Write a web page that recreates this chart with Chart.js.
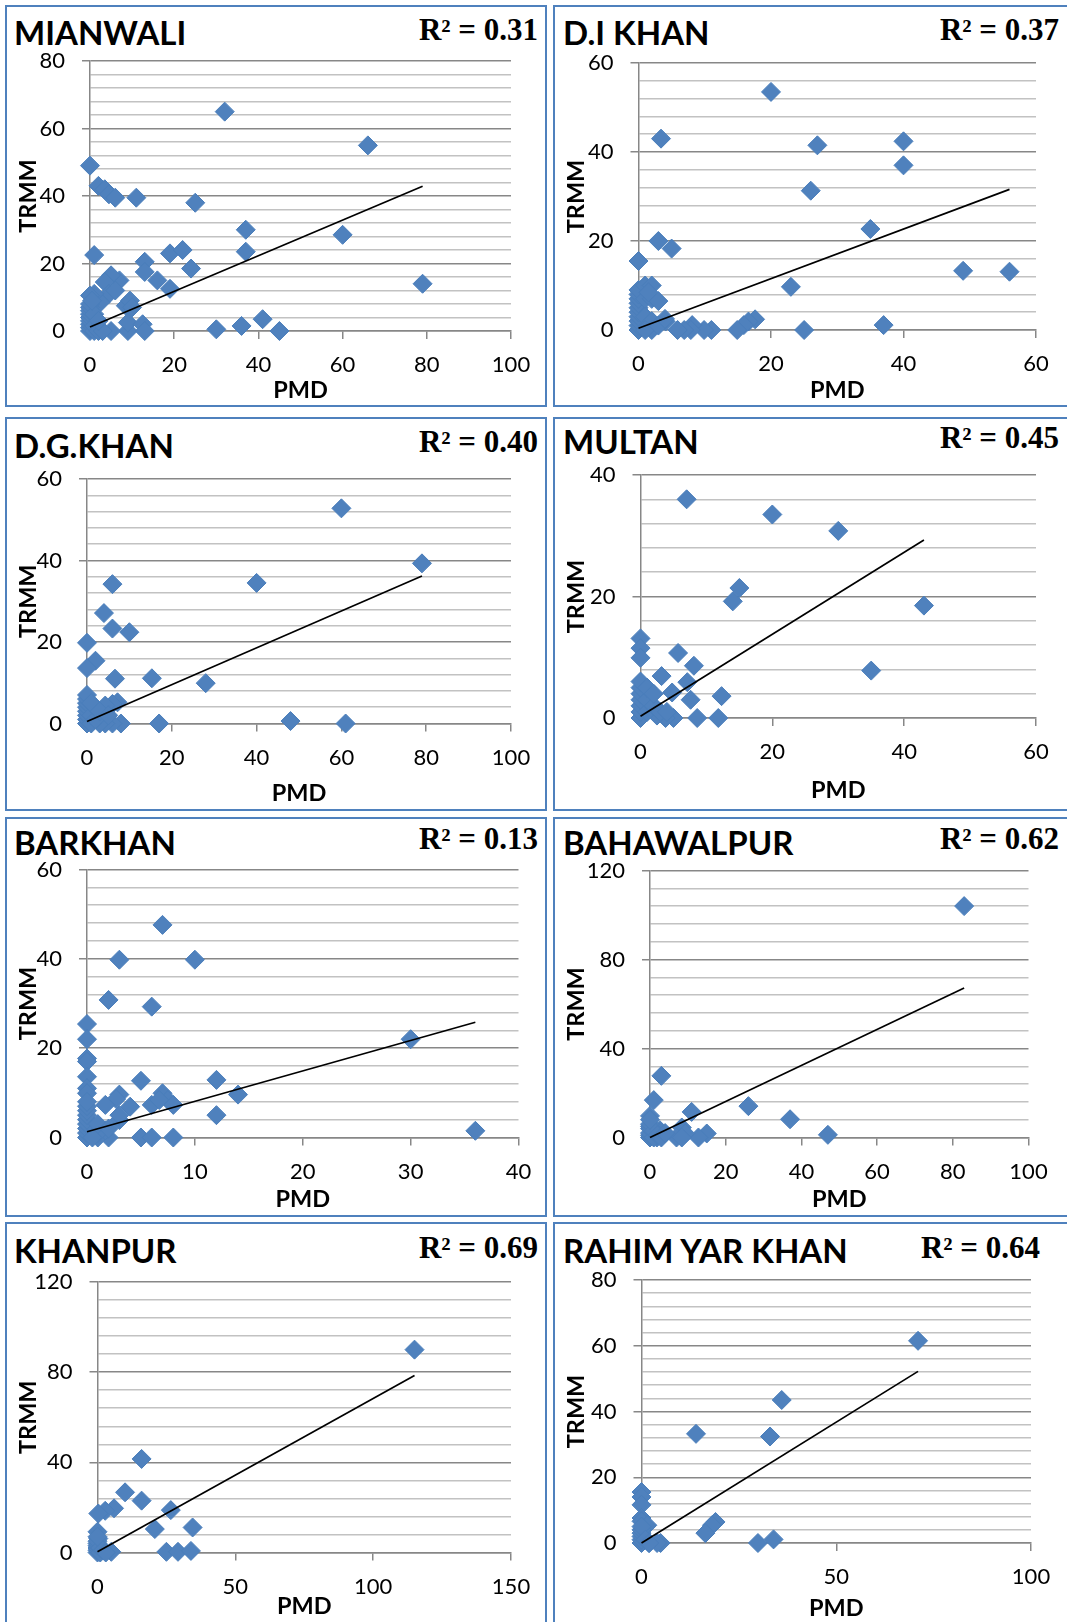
<!DOCTYPE html>
<html>
<head>
<meta charset="utf-8">
<title>PMD vs TRMM</title>
<script src="https://cdn.jsdelivr.net/npm/chart.js@4.4.0/dist/chart.umd.min.js"></script>
<style>
  html, body { margin: 0; padding: 0; background: #fff; }
  body { width: 1067px; height: 1622px; position: relative; overflow: hidden; }
  .frame { position: absolute; box-sizing: border-box; border: 2px solid #4f81bd; }
  canvas { position: absolute; }
  .name { position: absolute; font-family: Lato; font-weight: 700; font-size: 33px; line-height: 33px; white-space: nowrap; color: #000; }
  .r2 { position: absolute; font-family: "Liberation Serif"; font-weight: 700; font-size: 31px; line-height: 31px; white-space: nowrap; text-align: right; width: 300px; color: #000; }
</style>
</head>
<body>
<script>
// station monthly rainfall, PMD gauge (x) against TRMM estimate (y)
const mianwaliPMD  = [32, 66, 0, 2, 3.5, 4.5, 6, 11, 25, 37, 37, 60, 79, 1, 13, 13, 19, 22, 24, 16, 19, 7, 5, 3.5, 4.5, 6, 2.5, 1, 0, 8.5, 9.5, 10, 9, 9, 12.5, 13, 5, 30, 36, 41, 45, 0, 0, 0, 0, 0, 0, 0, 0, 0, 1, 1, 2, 3, 1, 0.5, 2];
const mianwaliTRMM = [65, 55, 49, 43, 42, 40.5, 39.5, 39.5, 38, 30, 23.5, 28.5, 14, 22.5, 20.5, 17.5, 23, 24, 18.5, 15, 12.5, 15, 16.5, 14.5, 11, 12, 8.5, 11, 10.5, 7.5, 9, 7, 0, 2.5, 2, 0, 0, 0.5, 1.5, 3.5, 0, 0, 1, 2, 3, 4, 5, 6, 7, 8, 0, 1.5, 0, 0, 5, 9, 3];
const mianwaliFitPMD = [0, 79];
const mianwaliFitTRMM = [1.2, 42.9];
const mianwaliXTicks = [0, 20, 40, 60, 80, 100];
const mianwaliYTicks = [0, 20, 40, 60, 80];

const diKhanPMD  = [20, 3.4, 27, 40, 40, 26, 35, 3, 5, 0, 23, 49, 56, 37, 25, 17.6, 16.6, 15.9, 14.9, 11, 9.9, 8.1, 7.9, 6.9, 5.9, 4.1, 0, 0, 0, 0, 0, 0, 0, 0, 0, 0, 1, 2, 1, 2, 3, 1, 2, 2, 1, 3, 4, 1.5];
const diKhanTRMM = [53.5, 43, 41.5, 42.4, 37, 31.3, 22.7, 20, 18.3, 15.5, 9.7, 13.3, 13.1, 1.1, 0, 2.4, 1.9, 1.1, 0, 0, 0, 1.1, 0, 0, 0, 1.9, 0, 1, 2, 3, 4, 5, 6, 7, 8, 9, 10, 10, 7, 7, 6.5, 3, 2, 0, 0, 1, 2.5, 8.5];
const diKhanFitPMD = [0, 56];
const diKhanFitTRMM = [0.4, 31.6];
const diKhanXTicks = [0, 20, 40, 60];
const diKhanYTicks = [0, 20, 40, 60];

const dgKhanPMD  = [60, 79, 40, 6, 4, 6, 10, 0, 2, 0, 6.6, 15.3, 28, 17, 48, 61, 7.2, 6, 4.3, 8, 6, 4.3, 3, 0, 0, 0, 0, 0, 0, 0, 0, 1, 1, 2, 2, 1, 3, 5];
const dgKhanTRMM = [52.8, 39.3, 34.5, 34.2, 27.1, 23.3, 22.4, 19.8, 15.4, 13.6, 11, 11.1, 9.9, 0, 0.6, 0, 5.2, 4.8, 4.4, 0, 0, 0, 0, 0, 1, 2, 3, 4, 5, 6, 7, 0, 2, 1, 4, 5, 3, 2];
const dgKhanFitPMD = [0, 79];
const dgKhanFitTRMM = [0.5, 36.2];
const dgKhanXTicks = [0, 20, 40, 60, 80, 100];
const dgKhanYTicks = [0, 20, 40, 60];

const multanPMD  = [7, 20, 30, 15, 14, 43, 35, 0, 0, 0, 5.7, 8.1, 3.2, 7.1, 4.8, 7.6, 12.3, 8.6, 11.8, 5, 3.8, 2.5, 1.5, 0, 0, 0, 0, 0, 0, 0, 1, 1, 1, 2, 2, 3, 4];
const multanTRMM = [36, 33.5, 30.8, 21.4, 19.2, 18.5, 7.8, 13.1, 11.5, 9.9, 10.7, 8.6, 6.9, 5.9, 4.2, 3, 3.6, 0, 0, 0, 0, 0.4, 2.3, 0, 1, 2, 3, 4, 5, 6, 1, 3, 5, 2, 4, 1, 1];
const multanFitPMD = [0, 43];
const multanFitTRMM = [0.3, 29.3];
const multanXTicks = [0, 20, 40, 60];
const multanYTicks = [0, 20, 40];

const barkhanPMD  = [7, 3, 10, 2, 6, 0, 0, 30, 0, 0, 0, 0, 0, 5, 12, 14, 7, 7.5, 8, 6, 6.7, 3, 2.7, 4, 1.7, 3, 12, 36, 5, 6, 8, 2, 1, 1.7, 0, 0, 0, 0, 0, 0, 0, 0, 0, 1, 1, 2, 3, 0.5];
const barkhanTRMM = [47.6, 39.8, 39.8, 30.8, 29.3, 25.4, 22, 22, 17.7, 17, 13.6, 11, 9.9, 12.7, 12.9, 9.6, 9.9, 8.4, 7.3, 7.3, 8.4, 9.6, 8.6, 6.9, 7.3, 3.9, 5, 1.5, 0, 0, 0, 0, 0, 1.6, 0, 1, 2, 3, 4, 5, 6, 7, 8, 1, 3, 2, 5, 0];
const barkhanFitPMD = [0, 36];
const barkhanFitTRMM = [1.3, 25.8];
const barkhanXTicks = [0, 10, 20, 30, 40];
const barkhanYTicks = [0, 20, 40, 60];

const bahawalpurPMD  = [83, 3, 1, 0, 11, 26, 37, 47, 15, 12.8, 8.4, 9.3, 7, 8.4, 2.6, 1.8, 0, 0, 0, 0, 0, 0, 1, 1, 2, 3, 4, 0];
const bahawalpurTRMM = [104, 27.7, 16.8, 9.7, 11.5, 14.1, 8.2, 1.2, 1.8, 0, 4.5, 1.8, 0, 0, 3.3, 0, 0, 1, 2, 4, 5, 6, 0, 3, 1, 0, 2, 8];
const bahawalpurFitPMD = [0, 83];
const bahawalpurFitTRMM = [0, 67.2];
const bahawalpurXTicks = [0, 20, 40, 60, 80, 100];
const bahawalpurYTicks = [0, 40, 80, 120];

const khanpurPMD  = [115, 16, 10, 16, 26.6, 6, 2.8, 0.3, 20.8, 34.5, 25, 29.2, 33.9, 5, 0, 0.3, 0, 0, 0, 0, 0, 0, 1, 1, 2, 3, 0];
const khanpurTRMM = [90, 41.5, 26.7, 23, 18.8, 19.6, 18.5, 17.3, 10.4, 11.1, 0.3, 0.3, 0.7, 0.3, 9.2, 6.2, 0, 1, 2, 3, 4, 5, 0, 2, 1, 0, 7];
const khanpurFitPMD = [0, 115];
const khanpurFitTRMM = [0.3, 78.5];
const khanpurXTicks = [0, 50, 100, 150];
const khanpurYTicks = [0, 40, 80, 120];

const rahimYarKhanPMD  = [71, 36, 14, 33, 19, 18.1, 16.4, 29.9, 33.9, 0, 0, 0, 0, 0, 1.5, 4.9, 4, 1.9, 0, 0, 0, 0, 0, 0, 1, 2];
const rahimYarKhanTRMM = [61.5, 43.5, 33.2, 32.4, 6.4, 5.4, 3, 0, 1.1, 15.5, 14, 11.6, 7.6, 6.6, 5.4, 0, 0, 0, 0, 1, 2, 3, 4, 5, 1, 0];
const rahimYarKhanFitPMD = [0, 71];
const rahimYarKhanFitTRMM = [0, 52.2];
const rahimYarKhanXTicks = [0, 50, 100];
const rahimYarKhanYTicks = [0, 20, 40, 60, 80];

const stationNames = ['MIANWALI', 'D.I KHAN', 'D.G.KHAN', 'MULTAN', 'BARKHAN', 'BAHAWALPUR', 'KHANPUR', 'RAHIM YAR KHAN'];
const rSquared = ['0.31', '0.37', '0.40', '0.45', '0.13', '0.62', '0.69', '0.64'];

const MAJOR_GRID = '#878787';
const MINOR_GRID = '#c2c2c2';
const MARKER = '#4f81bd';
const TICK_SIZE = 22;
const TITLE_SIZE = 23.5;

Chart.defaults.font.family = 'Lato';
Chart.defaults.color = '#000';

// page layout: box = [x, y, w, h], area = [left, top, right, bottom] of the plot
const panels = [
  { pmd: mianwaliPMD, trmm: mianwaliTRMM, fitX: mianwaliFitPMD, fitY: mianwaliFitTRMM, xTicks: mianwaliXTicks, yTicks: mianwaliYTicks,
    box: [5, 5, 542, 402], area: [90, 61, 511, 331], nameAt: [14, 45.5], r2At: [538, 40], yTitleX: 28, xTitleY: 390 },
  { pmd: diKhanPMD, trmm: diKhanTRMM, fitX: diKhanFitPMD, fitY: diKhanFitTRMM, xTicks: diKhanXTicks, yTicks: diKhanYTicks,
    box: [553, 5, 520, 402], area: [638.5, 63, 1036, 330], nameAt: [563, 45.5], r2At: [1059, 40], yTitleX: 576.5, xTitleY: 390 },
  { pmd: dgKhanPMD, trmm: dgKhanTRMM, fitX: dgKhanFitPMD, fitY: dgKhanFitTRMM, xTicks: dgKhanXTicks, yTicks: dgKhanYTicks,
    box: [5, 417, 542, 394], area: [87, 479, 511, 723.5], nameAt: [14, 458.5], r2At: [538, 452], yTitleX: 28, xTitleY: 793 },
  { pmd: multanPMD, trmm: multanTRMM, fitX: multanFitPMD, fitY: multanFitTRMM, xTicks: multanXTicks, yTicks: multanYTicks,
    box: [553, 417, 520, 394], area: [640.5, 475, 1036, 718], nameAt: [563, 454], r2At: [1059, 448], yTitleX: 576.5, xTitleY: 790 },
  { pmd: barkhanPMD, trmm: barkhanTRMM, fitX: barkhanFitPMD, fitY: barkhanFitTRMM, xTicks: barkhanXTicks, yTicks: barkhanYTicks,
    box: [5, 817, 542, 400], area: [87, 869.5, 518.5, 1137.5], nameAt: [14, 855], r2At: [538, 849], yTitleX: 28, xTitleY: 1199 },
  { pmd: bahawalpurPMD, trmm: bahawalpurTRMM, fitX: bahawalpurFitPMD, fitY: bahawalpurFitTRMM, xTicks: bahawalpurXTicks, yTicks: bahawalpurYTicks,
    box: [553, 817, 520, 400], area: [650, 870.5, 1028.5, 1137.5], nameAt: [563, 855], r2At: [1059, 849], yTitleX: 576.5, xTitleY: 1199 },
  { pmd: khanpurPMD, trmm: khanpurTRMM, fitX: khanpurFitPMD, fitY: khanpurFitTRMM, xTicks: khanpurXTicks, yTicks: khanpurYTicks,
    box: [5, 1222, 542, 410], area: [97.5, 1282, 511, 1552.5], nameAt: [14, 1263.5], r2At: [538, 1257.5], yTitleX: 28, xTitleY: 1606 },
  { pmd: rahimYarKhanPMD, trmm: rahimYarKhanTRMM, fitX: rahimYarKhanFitPMD, fitY: rahimYarKhanFitTRMM, xTicks: rahimYarKhanXTicks, yTicks: rahimYarKhanYTicks,
    box: [553, 1222, 520, 410], area: [641.5, 1280, 1031, 1543], nameAt: [563, 1263.5], r2At: [1040, 1257.5], yTitleX: 576.5, xTitleY: 1608 }
];

// place an absolutely positioned line of text so its baseline sits at y
const measure = document.createElement('canvas').getContext('2d');
function placeText(el, y, font, size) {
  measure.font = font;
  const m = measure.measureText('Hg');
  const asc = m.fontBoundingBoxAscent, desc = m.fontBoundingBoxDescent;
  const top = y - ((size - (asc + desc)) / 2 + asc);
  el.style.top = top + 'px';
}

function addDiv(cls, text) {
  const d = document.createElement('div');
  d.className = cls;
  d.textContent = text;
  document.body.appendChild(d);
  return d;
}

panels.forEach((p, i) => {
  const [bx, by, bw, bh] = p.box;

  const frame = addDiv('frame', '');
  Object.assign(frame.style, { left: bx + 'px', top: by + 'px', width: bw + 'px', height: bh + 'px' });

  const name = addDiv('name', stationNames[i]);
  name.style.left = p.nameAt[0] + 'px';
  placeText(name, p.nameAt[1], 'bold 33px Lato', 33);

  const r2 = addDiv('r2', 'R\u00b2 = ' + rSquared[i]);
  r2.style.left = (p.r2At[0] - 300) + 'px';
  placeText(r2, p.r2At[1], 'bold 31px "Liberation Serif"', 31);

  const canvas = document.createElement('canvas');
  canvas.width = bw;
  canvas.height = bh;
  canvas.style.left = bx + 'px';
  canvas.style.top = by + 'px';
  document.body.appendChild(canvas);

  const left = p.area[0] - bx, top = p.area[1] - by, right = p.area[2] - bx, bottom = p.area[3] - by;
  const lh = TITLE_SIZE * 1.2;

  const yMajor = p.yTicks[1] - p.yTicks[0];
  const yMinor = yMajor / 5;
  const yAll = [];
  for (let v = p.yTicks[0]; v <= p.yTicks[p.yTicks.length - 1] + 1e-9; v += yMinor) yAll.push(Math.round(v * 1000) / 1000);
  const isMajor = v => Math.abs(v / yMajor - Math.round(v / yMajor)) < 1e-6;

  new Chart(canvas, {
    type: 'scatter',
    data: {
      datasets: [
        {
          type: 'line',
          data: p.fitX.map((x, k) => ({ x: x, y: p.fitY[k] })),
          borderColor: '#000',
          borderWidth: 1.7,
          pointRadius: 0,
          fill: false,
          order: 0,
          clip: false
        },
        {
          data: p.pmd.map((x, k) => ({ x: x, y: p.trmm[k] })),
          pointStyle: 'rectRot',
          pointRadius: 9.5,
          backgroundColor: MARKER,
          borderColor: '#4a7ebb',
          borderWidth: 1,
          order: 1,
          clip: false
        }
      ]
    },
    options: {
      responsive: false,
      animation: false,
      devicePixelRatio: 1,
      events: [],
      layout: { padding: { left: 0, top: top, right: bw - right, bottom: 0 } },
      plugins: { legend: { display: false }, tooltip: { enabled: false } },
      scales: {
        x: {
          type: 'linear',
          min: p.xTicks[0],
          max: p.xTicks[p.xTicks.length - 1],
          afterBuildTicks: s => { s.ticks = p.xTicks.map(v => ({ value: v })); },
          afterFit: s => { s.height = bh - bottom; },
          grid: { drawOnChartArea: false, drawTicks: true, tickLength: 8, color: MAJOR_GRID, lineWidth: 1.5 },
          border: { color: MAJOR_GRID, width: 1.5 },
          ticks: { autoSkip: false, maxRotation: 0, padding: 12.8, font: { size: TICK_SIZE } },
          title: { display: true, text: 'PMD', font: { size: TITLE_SIZE, weight: 'bold' },
                   padding: { top: 0, bottom: bh - (p.xTitleY - by) - lh / 2 } }
        },
        y: {
          type: 'linear',
          min: p.yTicks[0],
          max: p.yTicks[p.yTicks.length - 1],
          afterBuildTicks: s => { s.ticks = yAll.map(v => ({ value: v })); },
          afterFit: s => { s.width = left; },
          grid: {
            drawTicks: true,
            tickLength: 8,
            lineWidth: 1.5,
            color: c => isMajor(c.tick.value) ? MAJOR_GRID : MINOR_GRID,
            tickColor: c => isMajor(c.tick.value) ? MAJOR_GRID : 'rgba(0,0,0,0)'
          },
          border: { color: MAJOR_GRID, width: 1.5 },
          ticks: { autoSkip: false, padding: 17, font: { size: TICK_SIZE },
                   callback: v => isMajor(v) ? v : '' },
          title: { display: true, text: 'TRMM', font: { size: TITLE_SIZE, weight: 'bold' },
                   padding: { top: (p.yTitleX - bx) - lh / 2, bottom: 0 } }
        }
      }
    }
  });
});
</script>
</body>
</html>
